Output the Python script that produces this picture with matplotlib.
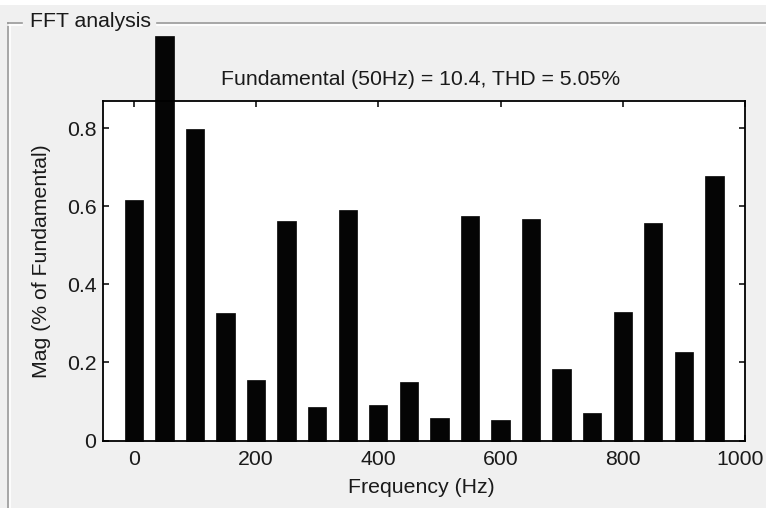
import matplotlib
matplotlib.use("Agg")
import matplotlib.pyplot as plt
import matplotlib.transforms as mtransforms
from matplotlib.lines import Line2D
from matplotlib.patches import Rectangle

plt.rcParams['font.family'] = ['Liberation Sans', 'DejaVu Sans']

# Data
freqs = [0, 50, 100, 150, 200, 250, 300, 350, 400, 450,
         500, 550, 600, 650, 700, 750, 800, 850, 900, 950]
mags = [0.617, 1.038, 0.799, 0.326, 0.154, 0.563, 0.086, 0.592, 0.091, 0.149,
        0.058, 0.576, 0.053, 0.567, 0.183, 0.070, 0.330, 0.557, 0.226, 0.679]
xticks = [0, 200, 400, 600, 800, 1000]
yticks = [0, 0.2, 0.4, 0.6, 0.8]
ytick_labels = ["0", "0.2", "0.4", "0.6", "0.8"]
panel_title = "FFT analysis"
title = "Fundamental (50Hz) = 10.4, THD = 5.05%"
xlabel = "Frequency (Hz)"
ylabel = "Mag (% of Fundamental)"

W, H = 766, 508
FS = 15.3
fig = plt.figure(figsize=(W / 100, H / 100), dpi=100, facecolor='#f0f0f0')

def fx(px):
    return px / W

def fy(py):
    return 1 - py / H

# white strip at top
fig.patches.append(Rectangle((0, fy(5)), 1, 1 - fy(5), transform=fig.transFigure,
                             facecolor='white', edgecolor='none', zorder=0))

# panel border (etched look)
for col, off in (('#9a9a9a', 0), ('#ffffff', 1.5)):
    fig.add_artist(Line2D([fx(8), fx(22)], [fy(23 + off), fy(23 + off)], color=col, lw=1.2,
                          transform=fig.transFigure))
    fig.add_artist(Line2D([fx(157), 1], [fy(23 + off), fy(23 + off)], color=col, lw=1.2,
                          transform=fig.transFigure))
    fig.add_artist(Line2D([fx(8 + off), fx(8 + off)], [fy(23 + off), 0], color=col, lw=1.2,
                          transform=fig.transFigure))

fig.text(fx(30), fy(27), panel_title, fontsize=FS, color='#1a1a1a', ha='left', va='baseline')

left, right, top, bottom = 103.3, 745, 100.7, 440.5
ax = fig.add_axes([fx(left), fy(bottom), fx(right) - fx(left), fy(top) - fy(bottom)])
ax.set_facecolor('white')

bars = ax.bar(freqs, mags, width=30, color='#050505', edgecolor='#050505', linewidth=0.5,
              zorder=3)
for b in bars:
    b.set_clip_on(False)

ax.set_xlim(-50, 1000)
ax.set_ylim(0, 0.871)
ax.set_xticks(xticks)
ax.set_xticklabels([str(v) for v in xticks])
ax.set_yticks(yticks)
ax.set_yticklabels(ytick_labels)

for s in ax.spines.values():
    s.set_linewidth(1.3)
    s.set_color('black')
    s.set_zorder(4)

ax.tick_params(axis='both', direction='in', length=4, width=1.1, colors='black',
               labelsize=FS, labelcolor='#1a1a1a', top=True, right=True)
ax.tick_params(axis='x', pad=6.8)
ax.tick_params(axis='y', pad=5)

# nudge the last x tick label left so it fits inside the figure (as in the reference)
last = ax.get_xticklabels()[-1]
last.set_transform(last.get_transform() +
                   mtransforms.ScaledTranslation(-4.5 / 100, 0, fig.dpi_scale_trans))

fig.text(fx(421), fy(85), title, fontsize=FS, color='#1a1a1a', ha='center', va='baseline')
fig.text(fx(421), fy(492.7), xlabel, fontsize=FS, color='#1a1a1a', ha='center', va='baseline')
fig.text(fx(42), fy(261), ylabel, fontsize=FS, color='#1a1a1a', rotation=90,
         ha='center', va='center')

fig.savefig('out.png', dpi=100, facecolor=fig.get_facecolor())
